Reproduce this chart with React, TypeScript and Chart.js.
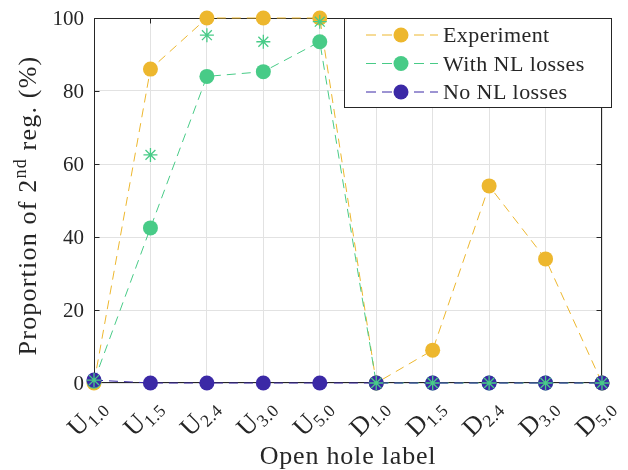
import React, { useEffect, useRef } from 'react';
import { Chart, registerables } from 'chart.js';

Chart.register(...registerables);

const categories = ['U1.0', 'U1.5', 'U2.4', 'U3.0', 'U5.0', 'D1.0', 'D1.5', 'D2.4', 'D3.0', 'D5.0'];
const experiment = [0, 86, 100, 100, 100, 0, 9, 54, 34, 0];
const withNL = [0.5, 42.5, 84, 85.3, 93.5, 0, 0, 0, 0, 0];
const withNLStar = [0.8, 62.5, 95.3, 93.5, 99, 0, 0, 0, 0, 0];
const noNL = [0.8, 0, 0, 0, 0, 0, 0, 0, 0, 0];
const yTicks = [0, 20, 40, 60, 80, 100];
const legendLabels = ['Experiment', 'With NL losses', 'No NL losses'];
const xTitle = 'Open hole label';

const YELLOW = '#EDB72E';
const GREEN = '#48CB87';
const BLUE = '#3B29A6';
const AXIS = '#262626';
const GRID = '#e2e2e2';
const SERIF = '"Liberation Serif", "Times New Roman", serif';

type Part = { text: string; size: number; dy: number };

function setSpacing(ctx: any, sp: number) {
  try {
    ctx.letterSpacing = `${sp}px`;
  } catch (e) {}
}

function richWidth(ctx: CanvasRenderingContext2D, parts: Part[], sp: number) {
  let w = 0;
  setSpacing(ctx, sp);
  for (const p of parts) {
    ctx.font = `${p.size}px ${SERIF}`;
    w += ctx.measureText(p.text).width;
  }
  return w;
}

function drawRich(
  ctx: CanvasRenderingContext2D,
  parts: Part[],
  x: number,
  y: number,
  align: 'left' | 'center' | 'right',
  sp = 0
) {
  const w = richWidth(ctx, parts, sp);
  let cx = align === 'left' ? x : align === 'center' ? x - w / 2 : x - w;
  ctx.textAlign = 'left';
  ctx.textBaseline = 'alphabetic';
  setSpacing(ctx, sp);
  for (const p of parts) {
    ctx.font = `${p.size}px ${SERIF}`;
    ctx.fillText(p.text, cx, y + p.dy);
    cx += ctx.measureText(p.text).width;
  }
  setSpacing(ctx, 0);
}

const decor = {
  id: 'decor',
  beforeDatasetsDraw(chart: any) {
    const { ctx, chartArea } = chart;
    const { left, right, top, bottom } = chartArea;
    const xs = chart.scales.x;
    const ys = chart.scales.y;
    ctx.save();
    ctx.strokeStyle = AXIS;
    ctx.lineWidth = 1;
    const L = Math.round(left) + 0.5;
    const R = Math.round(right) - 0.5;
    const T = Math.round(top) + 0.5;
    const B = Math.round(bottom) - 0.5;
    ctx.beginPath();
    ctx.rect(L, T, R - L, B - T);
    ctx.stroke();
    ctx.beginPath();
    categories.forEach((_, i) => {
      const px = Math.round(xs.getPixelForValue(i)) + 0.5;
      ctx.moveTo(px, B);
      ctx.lineTo(px, B - 5);
      ctx.moveTo(px, T);
      ctx.lineTo(px, T + 5);
    });
    yTicks.forEach((v) => {
      const py = Math.round(ys.getPixelForValue(v)) + 0.5;
      ctx.moveTo(L, py);
      ctx.lineTo(L + 5, py);
      ctx.moveTo(R, py);
      ctx.lineTo(R - 5, py);
    });
    ctx.stroke();
    ctx.restore();
  },
  afterDraw(chart: any) {
    const { ctx, chartArea } = chart;
    const xs = chart.scales.x;
    const ys = chart.scales.y;
    ctx.save();
    ctx.fillStyle = AXIS;
    // y tick labels
    ctx.font = `21px ${SERIF}`;
    ctx.textAlign = 'right';
    ctx.textBaseline = 'middle';
    yTicks.forEach((v) => {
      ctx.fillText(String(v), chartArea.left - 10, ys.getPixelForValue(v) + 1);
    });
    // x tick labels (rotated, with subscripts)
    categories.forEach((c, i) => {
      const px = xs.getPixelForValue(i);
      const parts: Part[] = [
        { text: c.slice(0, 1), size: 26, dy: 0 },
        { text: c.slice(1), size: 17.5, dy: 5 },
      ];
      ctx.save();
      ctx.translate(px + 13, chartArea.bottom + 25);
      ctx.rotate(-Math.PI / 4);
      drawRich(ctx, parts, 0, 0, 'right', 0.3);
      ctx.restore();
    });
    // x title
    drawRich(ctx, [{ text: xTitle, size: 26, dy: 0 }], (chartArea.left + chartArea.right) / 2, 464, 'center', 0.8);
    // y title
    ctx.save();
    ctx.translate(36, (chartArea.top + chartArea.bottom) / 2 + 5);
    ctx.rotate(-Math.PI / 2);
    drawRich(
      ctx,
      [
        { text: 'Proportion of 2', size: 26, dy: 0 },
        { text: 'nd', size: 18, dy: -10 },
        { text: ' reg. (%)', size: 26, dy: 0 },
      ],
      0,
      0,
      'center',
      1.2
    );
    ctx.restore();

    // legend
    const bx = 344.5, by = chartArea.top + 0.5, bw = 267, bh = 89;
    ctx.fillStyle = '#ffffff';
    ctx.fillRect(bx, by, bw, bh);
    ctx.strokeStyle = AXIS;
    ctx.lineWidth = 1;
    ctx.strokeRect(bx, by, bw, bh);
    const colors = [YELLOW, GREEN, BLUE];
    legendLabels.forEach((lab, i) => {
      const ry = by + 16.5 + i * 28.5;
      ctx.save();
      ctx.strokeStyle = colors[i];
      ctx.lineWidth = 1;
      ctx.setLineDash([10, 6]);
      ctx.beginPath();
      ctx.moveTo(366, ry);
      ctx.lineTo(438, ry);
      ctx.stroke();
      ctx.setLineDash([]);
      ctx.fillStyle = colors[i];
      ctx.beginPath();
      ctx.arc(401, ry, 7.5, 0, Math.PI * 2);
      ctx.fill();
      ctx.restore();
      ctx.fillStyle = AXIS;
      drawRich(ctx, [{ text: lab, size: 22, dy: 0 }], 443, ry + 7, 'left', 0.4);
    });
    ctx.restore();
  },
};

export default function App() {
  const ref = useRef<HTMLCanvasElement | null>(null);
  useEffect(() => {
    if (!ref.current) return;
    const line = (label: string, data: number[], color: string, order: number) => ({
      label,
      data,
      borderColor: color,
      backgroundColor: color,
      pointBackgroundColor: color,
      pointBorderColor: color,
      pointBorderWidth: 0,
      pointRadius: 7.5,
      pointHoverRadius: 7.5,
      borderWidth: 1,
      borderDash: [9, 6],
      tension: 0,
      clip: false,
      order,
    });
    const chart = new Chart(ref.current, {
      type: 'line',
      data: {
        labels: categories,
        datasets: [
          line(legendLabels[0], experiment, YELLOW, 3) as any,
          line(legendLabels[1], withNL, GREEN, 2) as any,
          line(legendLabels[2], noNL, BLUE, 1) as any,
          {
            label: 'With NL losses (alt)',
            data: withNLStar,
            showLine: false,
            pointStyle: 'star',
            pointRadius: 7,
            pointBorderColor: GREEN,
            pointBackgroundColor: GREEN,
            pointBorderWidth: 1.3,
            borderColor: GREEN,
            clip: false,
            order: 0,
          } as any,
        ],
      },
      options: {
        responsive: false,
        animation: false,
        devicePixelRatio: 1,
        events: [],
        layout: { padding: { left: 94, right: 26, top: 18, bottom: 87 } },
        plugins: { legend: { display: false }, tooltip: { enabled: false } },
        scales: {
          x: {
            type: 'category',
            offset: false,
            ticks: { display: false },
            grid: { color: GRID, lineWidth: 1, drawTicks: false },
            border: { display: false },
            afterFit: (s: any) => {
              s.height = 0;
            },
          },
          y: {
            min: 0,
            max: 100,
            ticks: { display: false, stepSize: 20 },
            grid: { color: GRID, lineWidth: 1, drawTicks: false },
            border: { display: false },
            afterFit: (s: any) => {
              s.width = 0;
            },
          },
        },
      } as any,
      plugins: [decor],
    });
    return () => chart.destroy();
  }, []);
  return (
    <div style={{ position: 'fixed', left: 0, top: 0, width: 628, height: 470, background: '#fff' }}>
      <canvas ref={ref} width={628} height={470} style={{ width: 628, height: 470, display: 'block' }} />
    </div>
  );
}
